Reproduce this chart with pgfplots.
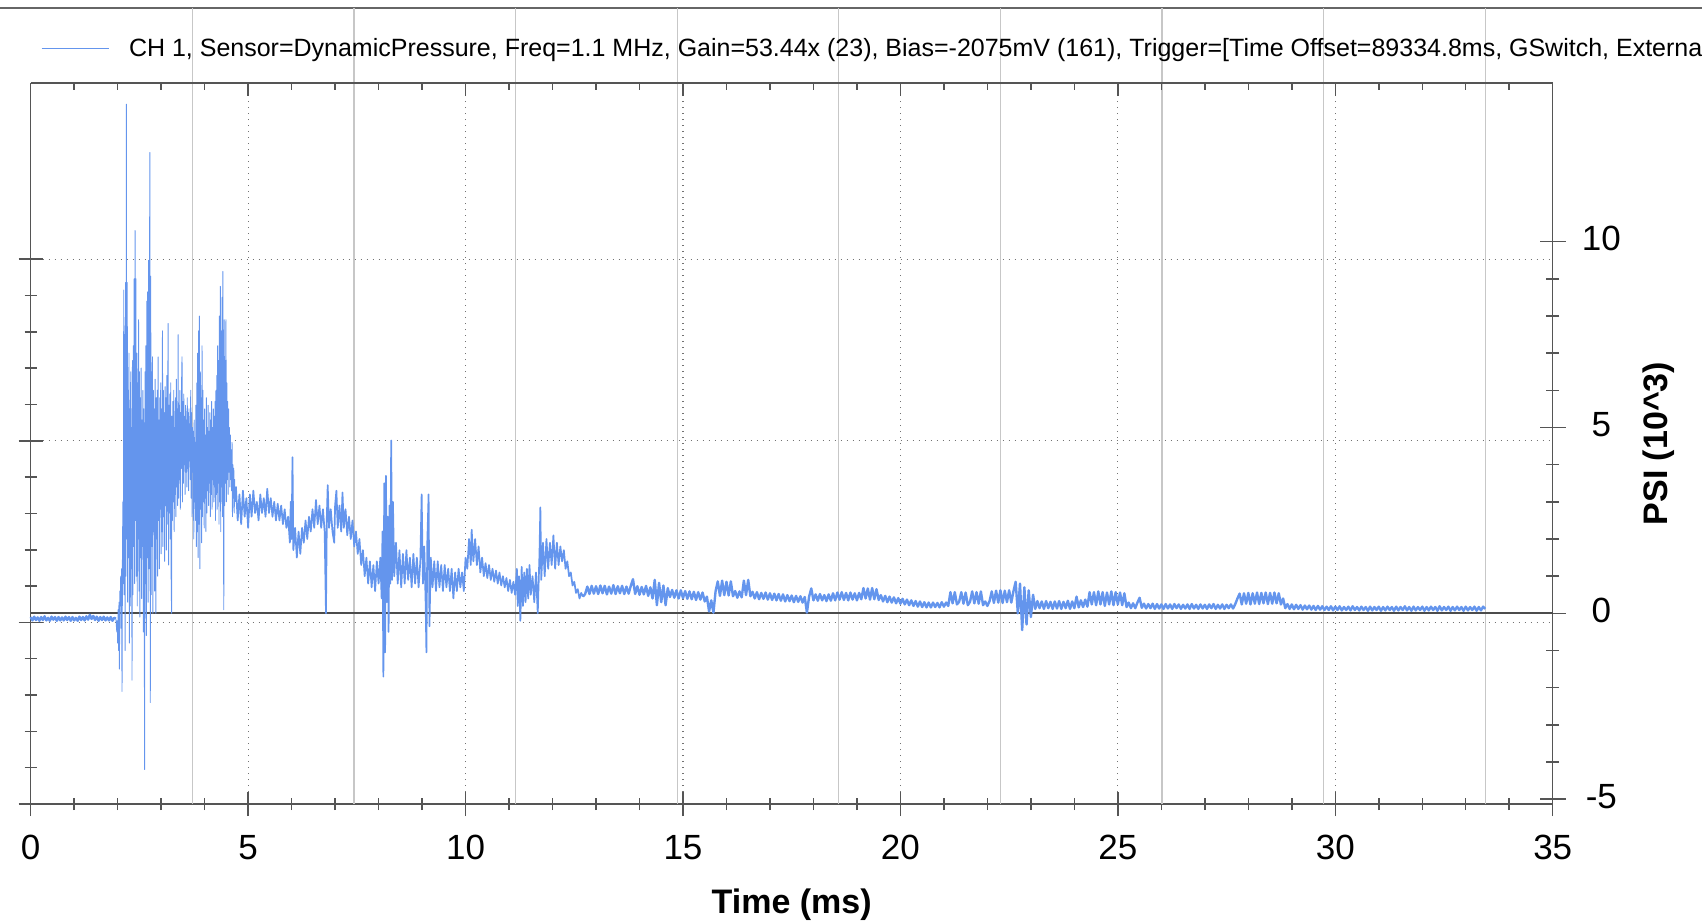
\documentclass[border=0pt]{standalone}
\usepackage{pgfplots}
\pgfplotsset{compat=1.18}
\usepackage{fontspec}
\setmainfont{Liberation Sans}
\definecolor{sig}{RGB}{100,149,237}
\definecolor{axisgray}{RGB}{85,85,85}
\begin{document}
\begin{tikzpicture}
\useasboundingbox (0pt,0pt) rectangle (851pt,461.5pt);
\clip (0pt,0pt) rectangle (851pt,461.5pt);
\draw[black!60, line width=0.75pt] (0pt,457.5pt) -- (851pt,457.5pt);
\pgfplotsset{
  common/.style={
    scale only axis, width=761pt, height=360.5pt,
    at={(15.35pt,59.5pt)}, anchor=south west,
    xmin=0, xmax=35,
    axis line style={-, draw=axisgray, line width=0.75pt},
    tick style={draw=axisgray, line width=0.75pt},
    tick label style={font=\fontsize{17.5}{19}\selectfont},
    /pgf/number format/assume math mode=true,
  }
}
% left axis, bottom axis, dotted grid
\begin{axis}[common,
  ymin=0, ymax=3.97,
  axis x line*=bottom, axis y line*=left,
  xtick={0,5,...,35}, minor x tick num=4,
  ytick={0,1,2,3}, minor y tick num=4, yticklabels={},
  tick align=center, major tick length=12pt, minor tick length=6pt,
  xmajorgrids, ymajorgrids,
  major grid style={black!55, line width=0.6pt, dash pattern=on 0.7pt off 2.3pt},
  xticklabel style={anchor=center, yshift=-15.9pt},
  xlabel={Time (ms)},
  every axis x label/.style={at={(rel axis cs:0.5,-0.1400)}, anchor=center, font=\bfseries\fontsize{17}{20}\selectfont},
]
\end{axis}
% right axis with data
\begin{axis}[common,
  ymin=-5.13, ymax=14.27,
  axis x line=none, axis y line*=right, xtick=\empty,
  ytick={-5,0,5,10}, minor y tick num=4,
  tick align=center, major tick length=12.8pt, minor tick length=6.5pt,
  yticklabel style={anchor=center, xshift=17.9pt, yshift=1.5pt},
  ylabel={PSI (10\textasciicircum 3)},
  every axis y label/.style={at={(rel axis cs:1.0698,0.5)}, anchor=center, rotate=90, font=\bfseries\fontsize{17}{20}\selectfont},
  clip=false,
  legend style={at={(rel axis cs:0,1)}, anchor=west, xshift=5.15pt, yshift=17pt, draw=none, fill=none, inner sep=0pt, outer sep=0pt, font=\fontsize{12.5}{14}\selectfont, column sep=10pt, nodes={inner sep=0pt, outer sep=0pt}},
  legend cell align=left,
  legend image code/.code={\draw[#1, line width=0.5pt] (0pt,0pt) -- (33.5pt,0pt);},
]
\pgfplotsinvokeforeach{3.72,7.43,11.15,14.87,18.58,22.30,26.02,29.73,33.45}{
  \draw[black!22, line width=0.75pt] (axis cs:#1,-5.13) -- (axis cs:#1,16.29);
}
\draw[black!70, line width=1pt] (axis cs:0,0) -- (axis cs:35,0);
% burst (thin strokes)
\addplot[color=sig, line width=0.45pt, line join=round] coordinates {
(1.96,-0.14)(1.98,-0.5)(1.99,-0.2)(2.00,-0.8)(2.01,0.1)(2.02,-1.0)(2.03,0.3)(2.04,-1.5)(2.05,0.6)(2.06,0.2)(2.07,1.0)(2.08,-0.4)(2.09,1.2)(2.10,-2.1)
(2.11,1.5)(2.12,3.0)(2.13,0.8)(2.14,8.7)(2.15,0.5)(2.16,7.5)(2.17,-1.0)(2.18,8.9)(2.19,1.0)(2.20,13.7)
(2.21,2.0)(2.22,8.9)(2.23,0.3)(2.24,6.0)(2.25,1.5)(2.26,7.0)(2.27,-0.8)(2.28,5.5)(2.29,0.2)(2.30,6.5)
(2.31,1.2)(2.32,5.0)(2.33,-1.8)(2.34,6.8)(2.35,0.5)(2.36,7.2)(2.37,1.8)(2.38,9.0)(2.39,0.8)(2.40,10.3)
(2.41,2.5)(2.42,9.0)(2.43,1.0)(2.44,7.0)(2.45,0.2)(2.46,6.2)(2.47,2.0)(2.48,7.9)(2.49,0.6)(2.50,6.5)
(2.51,-0.1)(2.52,5.8)(2.53,1.5)(2.54,6.6)(2.55,0.4)(2.56,5.2)(2.57,1.8)(2.58,6.0)(2.59,-0.5)(2.60,5.5)
(2.61,1.0)(2.62,-4.2)(2.63,6.5)(2.64,0.8)(2.65,7.2)(2.66,-0.6)(2.67,8.4)(2.68,1.5)(2.69,8.65)(2.70,0.3)
(2.71,9.5)(2.72,1.2)(2.73,7.5)(2.74,12.4)(2.75,-2.4)(2.76,9.07)(2.77,0.5)(2.78,6.5)(2.79,1.8)(2.80,6.9)
(2.81,0.0)(2.82,6.0)(2.83,2.2)(2.84,5.5)(2.85,0.6)(2.86,6.3)(2.87,1.5)(2.88,0.0)(2.89,5.8)(2.90,2.0)
(2.91,6.0)(2.92,1.0)(2.93,6.9)(2.94,2.5)(2.95,5.2)(2.96,1.2)(2.97,5.8)(2.98,2.8)(2.99,6.2)(3.00,1.6)
(3.01,5.5)(3.02,2.2)(3.03,7.6)(3.04,1.8)(3.05,6.0)(3.06,2.6)(3.07,5.4)(3.08,1.4)(3.09,6.1)(3.10,2.9)
(3.11,5.8)(3.12,1.7)(3.13,6.4)(3.14,2.4)(3.15,5.2)(3.16,7.8)(3.17,1.3)(3.18,5.6)(3.19,2.7)(3.20,5.9)
(3.21,2.0)(3.22,6.2)(3.23,1.0)(3.24,0.0)(3.25,5.3)(3.26,2.5)(3.27,5.7)(3.28,3.0)(3.29,6.0)(3.30,2.2)
(3.31,5.0)(3.32,3.2)(3.33,5.8)(3.34,2.6)(3.35,6.3)(3.36,3.4)(3.37,5.5)(3.38,2.9)(3.39,7.5)(3.40,3.1)
(3.41,5.6)(3.42,3.6)(3.43,6.0)(3.44,2.8)(3.45,5.4)(3.46,3.9)(3.47,6.2)(3.48,6.9)(3.49,3.0)(3.50,5.7)
(3.51,3.5)(3.52,5.9)(3.53,4.0)(3.54,5.3)(3.55,3.2)(3.56,5.6)(3.57,3.8)(3.58,5.2)(3.59,3.4)(3.60,5.8)
(3.61,3.9)(3.62,5.4)(3.63,3.3)(3.64,5.5)(3.65,4.1)(3.66,5.1)(3.67,3.6)(3.68,6.0)(3.69,3.1)(3.70,5.4)
(3.71,2.6)(3.72,5.0)(3.73,3.8)(3.74,4.9)(3.75,2.0)(3.76,5.2)(3.77,3.0)(3.78,4.6)(3.79,2.5)(3.80,5.6)
(3.81,1.8)(3.82,6.2)(3.83,2.2)(3.84,7.0)(3.85,1.5)(3.86,7.6)(3.87,2.4)(3.88,8.0)(3.89,1.2)(3.90,6.5)
(3.91,2.8)(3.92,5.8)(3.93,1.9)(3.94,7.2)(3.95,2.6)(3.96,6.0)(3.97,3.0)(3.98,5.2)(3.99,2.3)(4.00,5.5)
(4.01,3.1)(4.02,4.8)(4.03,2.2)(4.04,5.8)(4.05,2.7)(4.06,5.0)(4.07,3.3)(4.08,5.6)(4.09,2.9)(4.10,4.9)
(4.11,3.5)(4.12,5.4)(4.13,2.6)(4.14,5.2)(4.15,3.2)(4.16,5.7)(4.17,2.8)(4.18,5.0)(4.19,3.6)(4.20,5.5)
(4.21,3.0)(4.22,5.3)(4.23,3.4)(4.24,5.7)(4.25,2.5)(4.26,6.0)(4.27,3.2)(4.28,6.4)(4.29,2.8)(4.30,7.2)
(4.31,3.5)(4.32,6.8)(4.33,2.4)(4.34,8.0)(4.35,3.0)(4.36,8.8)(4.37,2.2)(4.38,7.6)(4.39,3.4)(4.40,8.5)
(4.41,2.6)(4.42,9.2)(4.43,3.8)(4.44,0.1)(4.45,7.9)(4.46,2.9)(4.47,6.8)(4.48,3.5)(4.49,7.9)(4.50,3.0)
(4.51,6.2)(4.52,3.6)(4.53,5.7)(4.54,3.2)(4.55,5.5)(4.56,3.8)(4.57,5.0)(4.58,3.4)(4.59,4.8)(4.60,3.6)
(4.61,4.4)(4.62,3.3)(4.63,4.6)(4.64,2.6)(4.65,4.0)(4.66,3.1)(4.67,3.9)(4.68,2.7)(4.69,3.6)(4.70,3.0)
};
\addlegendentry{CH 1, Sensor=DynamicPressure, Freq=1.1 MHz, Gain=53.44x (23), Bias=-2075mV (161), Trigger=[Time Offset=89334.8ms, GSwitch, External]}
% pre-trigger baseline (noise band)
\addplot[forget plot, color=sig, line width=1.2pt, line join=round] coordinates {
(0.00,-0.10)(0.04,-0.19)(0.08,-0.09)(0.12,-0.18)(0.16,-0.11)(0.20,-0.20)(0.24,-0.10)(0.28,-0.18)(0.32,-0.08)(0.36,-0.19)
(0.40,-0.12)(0.44,-0.20)(0.48,-0.09)(0.52,-0.17)(0.56,-0.10)(0.60,-0.20)(0.64,-0.10)(0.68,-0.19)(0.72,-0.11)(0.76,-0.19)
(0.80,-0.09)(0.84,-0.18)(0.88,-0.10)(0.92,-0.20)(0.96,-0.10)(1.00,-0.19)(1.04,-0.12)(1.08,-0.20)(1.12,-0.09)(1.16,-0.18)
(1.20,-0.10)(1.24,-0.19)(1.28,-0.08)(1.32,-0.17)(1.36,-0.04)(1.40,-0.15)(1.44,-0.07)(1.48,-0.18)(1.52,-0.09)(1.56,-0.20)
(1.60,-0.10)(1.64,-0.18)(1.68,-0.09)(1.72,-0.19)(1.76,-0.11)(1.80,-0.19)(1.84,-0.10)(1.88,-0.20)(1.92,-0.12)(1.96,-0.14)
};
% decaying part
\addplot[forget plot, color=sig, line width=0.85pt, line join=round] coordinates {
(4.70,3.0)(4.72,3.4)(4.76,2.5)(4.80,3.2)(4.84,2.4)(4.88,3.3)(4.92,2.6)(4.96,3.1)(5.00,2.3)(5.04,3.2)(5.08,2.6)
(5.12,3.3)(5.16,2.7)(5.20,3.0)(5.24,2.5)(5.28,3.2)(5.32,2.7)(5.36,3.1)(5.40,2.6)(5.44,3.35)(5.48,2.7)
(5.52,3.1)(5.56,2.6)(5.60,3.0)(5.64,2.5)(5.68,2.95)(5.72,2.5)(5.76,2.9)(5.80,2.4)(5.84,2.8)(5.88,2.3)
(5.92,2.6)(5.96,1.9)(5.98,3.0)(6.00,2.0)(6.02,4.2)(6.04,1.7)(6.08,2.3)(6.12,1.5)(6.16,2.2)(6.20,1.6)
(6.24,2.3)(6.28,1.9)(6.32,2.5)(6.36,2.0)(6.40,2.6)(6.44,2.2)(6.48,2.8)(6.52,2.3)(6.56,3.05)(6.60,2.4)
(6.64,2.9)(6.68,2.3)(6.72,2.8)(6.76,2.2)(6.79,0.0)(6.81,2.6)(6.83,3.45)(6.86,2.3)(6.90,2.8)(6.94,2.2)
(6.98,1.9)(7.00,2.9)(7.03,3.3)(7.06,2.3)(7.10,2.9)(7.14,2.2)(7.17,3.25)(7.20,2.3)(7.24,2.8)(7.28,2.1)
(7.32,2.6)(7.36,2.0)(7.40,2.5)(7.44,1.8)(7.48,2.2)(7.52,1.6)(7.56,2.0)(7.60,1.3)(7.64,1.7)(7.68,1.0)
(7.72,1.5)(7.76,0.8)(7.80,1.4)(7.84,0.7)(7.88,1.3)(7.92,0.6)(7.96,1.4)(8.00,0.8)(8.04,1.5)(8.07,0.4)
(8.09,2.2)(8.11,-1.7)(8.13,3.5)(8.15,-1.05)(8.17,3.7)(8.19,0.3)(8.21,2.6)(8.23,-0.5)(8.25,2.9)(8.27,0.8)
(8.29,4.65)(8.31,0.9)(8.33,3.0)(8.36,1.0)(8.40,1.9)(8.44,0.8)(8.48,1.7)(8.52,0.7)(8.56,1.6)(8.60,0.8)
(8.64,1.7)(8.68,0.9)(8.72,1.5)(8.76,0.7)(8.80,1.6)(8.84,0.8)(8.88,1.5)(8.92,0.7)(8.96,1.4)(8.99,3.2)
(9.02,0.8)(9.05,1.8)(9.08,0.4)(9.10,-1.05)(9.12,1.9)(9.15,3.2)(9.17,-0.35)(9.20,1.5)(9.24,0.7)(9.28,1.4)
(9.32,0.6)(9.36,1.4)(9.40,0.7)(9.44,1.3)(9.48,0.6)(9.52,1.3)(9.56,0.7)(9.60,1.2)(9.64,0.6)(9.68,1.2)
(9.72,0.4)(9.76,1.1)(9.80,0.6)(9.84,1.2)(9.88,0.7)(9.92,1.1)(9.96,0.6)(10.00,1.5)(10.04,1.2)(10.08,2.0)
(10.12,1.3)(10.14,2.25)(10.18,1.4)(10.22,2.0)(10.26,1.3)(10.30,1.8)(10.34,1.1)(10.38,1.5)(10.42,1.0)(10.46,1.35)
(10.50,0.95)(10.54,1.3)(10.58,0.9)(10.62,1.2)(10.66,0.85)(10.70,1.15)(10.74,0.8)(10.78,1.1)(10.82,0.75)(10.86,1.0)
(10.90,0.7)(10.94,0.95)(10.98,0.6)(11.02,0.9)(11.06,0.55)(11.10,0.85)(11.14,0.5)(11.18,1.2)(11.20,0.2)(11.23,1.0)
(11.26,-0.2)(11.29,1.25)(11.32,0.2)(11.35,1.1)(11.38,0.3)(11.41,1.2)(11.44,0.4)(11.47,1.3)(11.50,0.5)(11.54,1.0)
(11.58,0.3)(11.62,1.1)(11.66,0.0)(11.70,1.6)(11.72,2.85)(11.74,0.9)(11.78,1.9)(11.82,1.0)(11.86,2.0)(11.90,1.2)
(11.94,1.9)(11.98,1.3)(12.02,2.1)(12.06,1.2)(12.10,1.9)(12.14,1.3)(12.18,1.8)(12.22,1.4)(12.26,1.7)(12.30,1.2)
(12.34,1.4)(12.38,1.0)(12.42,1.1)(12.46,0.75)(12.50,0.85)(12.54,0.55)(12.58,0.65)(12.62,0.4)(12.66,0.55)(12.70,0.45)
};
% tail (noise band)
\addplot[forget plot, color=sig, line width=1.2pt, line join=round] coordinates {
(12.70,0.45)(12.75,0.52)(12.80,0.72)(12.85,0.52)(12.90,0.74)(12.95,0.53)(13.00,0.73)(13.05,0.52)(13.10,0.75)(13.15,0.54)(13.20,0.74)
(13.25,0.51)(13.30,0.72)(13.35,0.53)(13.40,0.76)(13.45,0.52)(13.50,0.73)(13.55,0.54)(13.60,0.74)(13.65,0.52)(13.70,0.72)
(13.75,0.53)(13.80,0.74)(13.85,0.92)(13.90,0.52)(13.95,0.73)(14.00,0.50)(14.05,0.71)(14.10,0.51)(14.15,0.74)(14.20,0.47)
(14.25,0.70)(14.30,0.40)(14.35,0.90)(14.40,0.22)(14.45,0.82)(14.50,0.30)(14.55,0.75)(14.60,0.22)(14.65,0.68)(14.70,0.44)
(14.75,0.63)(14.80,0.42)(14.85,0.62)(14.90,0.40)(14.95,0.62)(15.00,0.41)(15.05,0.60)(15.10,0.39)(15.15,0.59)(15.20,0.38)
(15.25,0.58)(15.30,0.36)(15.35,0.57)(15.40,0.37)(15.45,0.56)(15.50,0.32)(15.55,0.45)(15.60,0.05)(15.65,0.35)(15.70,0.02)
(15.75,0.60)(15.80,0.86)(15.85,0.47)(15.90,0.88)(15.95,0.49)(16.00,0.85)(16.05,0.48)(16.10,0.86)(16.15,0.46)(16.20,0.60)
(16.25,0.42)(16.30,0.59)(16.35,0.43)(16.40,0.88)(16.45,0.49)(16.50,0.90)(16.55,0.46)(16.60,0.58)(16.65,0.40)(16.70,0.57)
(16.75,0.38)(16.80,0.55)(16.85,0.39)(16.90,0.56)(16.95,0.37)(17.00,0.54)(17.05,0.36)(17.10,0.53)(17.15,0.35)(17.20,0.52)
(17.25,0.34)(17.30,0.51)(17.35,0.32)(17.40,0.49)(17.45,0.33)(17.50,0.48)(17.55,0.30)(17.60,0.47)(17.65,0.31)(17.70,0.46)
(17.75,0.29)(17.80,0.44)(17.85,0.02)(17.90,0.45)(17.95,0.67)(18.00,0.35)(18.05,0.51)(18.10,0.34)(18.15,0.52)(18.20,0.35)
(18.25,0.49)(18.30,0.33)(18.35,0.51)(18.40,0.34)(18.45,0.54)(18.50,0.35)(18.55,0.56)(18.60,0.37)(18.65,0.57)(18.70,0.36)
(18.75,0.55)(18.80,0.35)(18.85,0.56)(18.90,0.37)(18.95,0.54)(19.00,0.35)(19.05,0.55)(19.10,0.38)(19.15,0.68)(19.20,0.40)
(19.25,0.67)(19.30,0.37)(19.35,0.68)(19.40,0.38)(19.45,0.65)(19.50,0.36)(19.55,0.49)(19.60,0.32)(19.65,0.47)(19.70,0.30)
(19.75,0.45)(19.80,0.29)(19.85,0.43)(19.90,0.27)(19.95,0.41)(20.00,0.26)(20.05,0.39)(20.10,0.24)(20.15,0.37)(20.20,0.22)
(20.25,0.35)(20.30,0.20)(20.35,0.33)(20.40,0.18)(20.45,0.32)(20.50,0.17)(20.55,0.30)(20.60,0.16)(20.65,0.29)(20.70,0.16)
(20.75,0.29)(20.80,0.17)(20.85,0.28)(20.90,0.16)(20.95,0.30)(21.00,0.18)(21.05,0.29)(21.10,0.20)(21.15,0.57)(21.20,0.27)
(21.25,0.57)(21.30,0.24)(21.35,0.31)(21.40,0.57)(21.45,0.26)(21.50,0.56)(21.55,0.22)(21.60,0.31)(21.65,0.59)(21.70,0.27)
(21.75,0.57)(21.80,0.26)(21.85,0.59)(21.90,0.22)(21.95,0.32)(22.00,0.20)(22.05,0.33)(22.10,0.59)(22.15,0.28)(22.20,0.61)
(22.25,0.29)(22.30,0.62)(22.35,0.28)(22.40,0.61)(22.45,0.30)(22.50,0.62)(22.55,0.29)(22.60,0.60)(22.65,0.85)(22.70,0.00)
(22.75,0.80)(22.80,-0.45)(22.85,0.70)(22.90,-0.30)(22.95,0.62)(23.00,-0.10)(23.05,0.50)(23.10,0.12)(23.15,0.33)(23.20,0.14)
(23.25,0.32)(23.30,0.12)(23.35,0.33)(23.40,0.14)(23.45,0.31)(23.50,0.12)(23.55,0.32)(23.60,0.13)(23.65,0.33)(23.70,0.12)
(23.75,0.31)(23.80,0.14)(23.85,0.34)(23.90,0.12)(23.95,0.32)(24.00,0.14)(24.05,0.45)(24.10,0.16)(24.15,0.35)(24.20,0.17)
(24.25,0.37)(24.30,0.18)(24.35,0.57)(24.40,0.24)(24.45,0.57)(24.50,0.22)(24.55,0.59)(24.60,0.24)(24.65,0.57)(24.70,0.20)
(24.75,0.56)(24.80,0.24)(24.85,0.59)(24.90,0.22)(24.95,0.57)(25.00,0.24)(25.05,0.56)(25.10,0.22)(25.15,0.54)(25.20,0.17)
(25.25,0.29)(25.30,0.14)(25.35,0.27)(25.40,0.14)(25.45,0.29)(25.50,0.42)(25.55,0.15)(25.60,0.26)(25.65,0.13)(25.70,0.25)
(25.75,0.14)(25.80,0.26)(25.85,0.12)(25.90,0.25)(25.95,0.13)(26.00,0.24)(26.05,0.12)(26.10,0.25)(26.15,0.13)(26.20,0.24)
(26.25,0.12)(26.30,0.25)(26.35,0.14)(26.40,0.24)(26.45,0.12)(26.50,0.23)(26.55,0.13)(26.60,0.24)(26.65,0.12)(26.70,0.25)
(26.75,0.13)(26.80,0.23)(26.85,0.12)(26.90,0.24)(26.95,0.13)(27.00,0.23)(27.05,0.12)(27.10,0.24)(27.15,0.14)(27.20,0.25)
(27.25,0.12)(27.30,0.23)(27.35,0.13)(27.40,0.24)(27.45,0.12)(27.50,0.23)(27.55,0.14)(27.60,0.24)(27.65,0.13)(27.70,0.25)
(27.75,0.40)(27.80,0.53)(27.85,0.24)(27.90,0.54)(27.95,0.26)(28.00,0.55)(28.05,0.24)(28.10,0.54)(28.15,0.26)(28.20,0.56)
(28.25,0.25)(28.30,0.55)(28.35,0.27)(28.40,0.56)(28.45,0.25)(28.50,0.55)(28.55,0.26)(28.60,0.56)(28.65,0.27)(28.70,0.54)
(28.75,0.24)(28.80,0.40)(28.85,0.14)(28.90,0.25)(28.95,0.12)(29.00,0.24)(29.05,0.11)(29.10,0.23)(29.15,0.12)(29.20,0.22)
(29.25,0.10)(29.30,0.21)(29.35,0.11)(29.40,0.21)(29.45,0.10)(29.50,0.20)(29.55,0.09)(29.60,0.20)(29.65,0.10)(29.70,0.19)
(29.75,0.09)(29.80,0.18)(29.85,0.09)(29.90,0.19)(29.95,0.08)(30.00,0.18)(30.05,0.09)(30.10,0.19)(30.15,0.08)(30.20,0.17)
(30.25,0.09)(30.30,0.18)(30.35,0.08)(30.40,0.19)(30.45,0.09)(30.50,0.17)(30.55,0.08)(30.60,0.18)(30.65,0.09)(30.70,0.17)
(30.75,0.07)(30.80,0.18)(30.85,0.08)(30.90,0.17)(30.95,0.09)(31.00,0.18)(31.05,0.07)(31.10,0.17)(31.15,0.08)(31.20,0.18)
(31.25,0.09)(31.30,0.17)(31.35,0.07)(31.40,0.18)(31.45,0.08)(31.50,0.17)(31.55,0.09)(31.60,0.19)(31.65,0.08)(31.70,0.17)
(31.75,0.07)(31.80,0.18)(31.85,0.08)(31.90,0.17)(31.95,0.09)(32.00,0.18)(32.05,0.07)(32.10,0.17)(32.15,0.08)(32.20,0.18)
(32.25,0.09)(32.30,0.17)(32.35,0.07)(32.40,0.19)(32.45,0.08)(32.50,0.17)(32.55,0.09)(32.60,0.18)(32.65,0.07)(32.70,0.17)
(32.75,0.08)(32.80,0.18)(32.85,0.09)(32.90,0.17)(32.95,0.07)(33.00,0.18)(33.05,0.08)(33.10,0.17)(33.15,0.09)(33.20,0.18)
(33.25,0.07)(33.30,0.17)(33.35,0.08)(33.40,0.18)(33.45,0.12)
};
\end{axis}
% top axis with inward ticks
\begin{axis}[common,
  ymin=0, ymax=1,
  axis x line*=top, axis y line=none, ytick=\empty,
  xtick={0,5,...,35}, minor x tick num=4, xticklabels={},
  tick align=inside, major tick length=6.3pt, minor tick length=3.5pt,
]
\end{axis}
\end{tikzpicture}
\end{document}
